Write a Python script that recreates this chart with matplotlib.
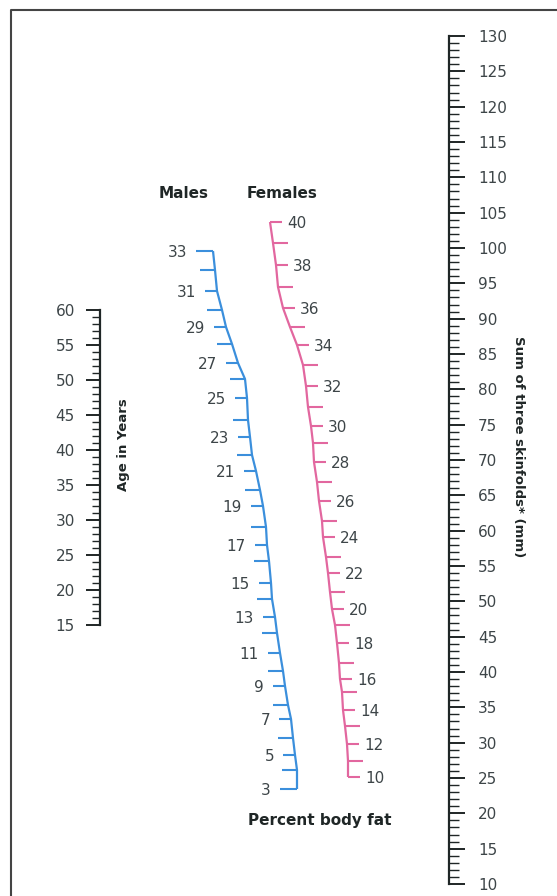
import matplotlib
matplotlib.use('Agg')
import matplotlib.pyplot as plt
from matplotlib.ticker import MultipleLocator

# 年齢・皮下脂肪厚のスケール
age_ticks = list(range(15, 61, 5))
skinfold_ticks = list(range(10, 131, 5))

# 体脂肪率スケール (曲線) : 読み取った目盛位置 (px)
male_pct = list(range(3, 34))
male_x = [297, 297, 295, 293, 291, 288, 285, 283, 280, 277, 275, 272, 271, 269, 267, 266,
          263, 260, 256, 252, 250, 248, 247, 245, 238, 232, 226, 222, 217, 215, 213]
male_y = [789, 770, 755, 738, 719, 705, 686, 671, 653, 633, 617, 599, 583, 561, 545, 527,
          506, 490, 471, 455, 437, 420, 398, 379, 363, 344, 327, 310, 291, 270, 251]

female_pct = list(range(10, 41))
female_x = [348, 348, 347, 345, 343, 342, 340, 339, 337, 335, 332, 330, 328, 326, 323, 322,
            319, 317, 314, 313, 311, 308, 306, 303, 297, 290, 283, 278, 276, 273, 270]
female_y = [777, 761, 744, 726, 710, 692, 679, 663, 643, 625, 609, 592, 573, 557, 537, 521,
            501, 482, 462, 443, 426, 407, 386, 365, 345, 327, 308, 287, 265, 243, 222]

W, H = 557, 896
BLUE = '#3b8fdc'
PINK = '#e2679f'
NUM = '#3d4548'
DARK = '#1f2626'

fig = plt.figure(figsize=(W / 100, H / 100), dpi=100)
fig.patch.set_facecolor('white')

def fx(px):
    return px / W

def fy(py):
    return 1 - py / H

# 全体キャンバス (px 座標)
ax = fig.add_axes([0, 0, 1, 1])
ax.set_xlim(0, W)
ax.set_ylim(H, 0)
ax.axis('off')

# 枠線
ax.plot([11, 11, W], [H, 10, 10], color='#444444', lw=1.5, solid_capstyle='butt')

# 男性スケール
ax.plot(male_x, male_y, color=BLUE, lw=1.6, solid_capstyle='butt')
for p, x, y in zip(male_pct, male_x, male_y):
    labeled = p % 2 == 1
    L = 12 if labeled else 15
    if p in (male_pct[0], male_pct[-1]):
        L = 17
    ax.hlines(y, x - L, x, color=BLUE, lw=1.5)
    if labeled:
        ax.text(x - L - 9, y, str(p), ha='right', va='center_baseline',
                fontsize=11, color=NUM)

# 女性スケール
ax.plot(female_x, female_y, color=PINK, lw=1.6, solid_capstyle='butt')
for p, x, y in zip(female_pct, female_x, female_y):
    labeled = p % 2 == 0
    L = 12 if labeled else 15
    ax.hlines(y, x, x + L, color=PINK, lw=1.5)
    if labeled:
        ax.text(x + L + 5, y, str(p), ha='left', va='center_baseline',
                fontsize=11, color=NUM)

ax.text(184, 194, 'Males', ha='center', va='center', fontsize=11,
        fontweight='bold', color=DARK)
ax.text(282, 194, 'Females', ha='center', va='center', fontsize=11,
        fontweight='bold', color=DARK)
ax.text(320, 821, 'Percent body fat', ha='center', va='center', fontsize=11,
        fontweight='bold', color=DARK)
ax.text(124, 445, 'Age in Years', ha='center', va='center', fontsize=9.5,
        fontweight='bold', color=DARK, rotation=90)
ax.text(518, 447, 'Sum of three skinfolds* (mm)', ha='center', va='center',
        fontsize=9.5, fontweight='bold', color=DARK, rotation=-90)

# 年齢スケール
ax_age = fig.add_axes([fx(100), fy(625), 0.02, (625 - 310) / H])
ax_age.patch.set_visible(False)
for s in ('top', 'right', 'bottom'):
    ax_age.spines[s].set_visible(False)
ax_age.spines['left'].set_linewidth(1.6)
ax_age.spines['left'].set_color(DARK)
ax_age.set_ylim(15, 60)
ax_age.set_xticks([])
ax_age.set_yticks(age_ticks)
ax_age.yaxis.set_minor_locator(MultipleLocator(1))
ax_age.tick_params(axis='y', which='major', length=10, width=1.4, color=DARK,
                   pad=8, labelsize=11, labelcolor=NUM)
ax_age.tick_params(axis='y', which='minor', length=5.8, width=1.0, color=DARK)

# 皮下脂肪厚スケール
ax_sk = fig.add_axes([fx(449) - 0.02, fy(884), 0.02, (884 - 36) / H])
ax_sk.patch.set_visible(False)
for s in ('top', 'left', 'bottom'):
    ax_sk.spines[s].set_visible(False)
ax_sk.spines['right'].set_linewidth(1.6)
ax_sk.spines['right'].set_color(DARK)
ax_sk.set_ylim(10, 130)
ax_sk.set_xticks([])
ax_sk.yaxis.tick_right()
ax_sk.set_yticks(skinfold_ticks)
ax_sk.yaxis.set_minor_locator(MultipleLocator(1))
ax_sk.tick_params(axis='y', which='major', length=11.5, width=1.4, color=DARK,
                  pad=9.4, labelsize=11, labelcolor=NUM)
ax_sk.tick_params(axis='y', which='minor', length=7.2, width=1.0, color=DARK)

fig.savefig('out.png', dpi=100)
